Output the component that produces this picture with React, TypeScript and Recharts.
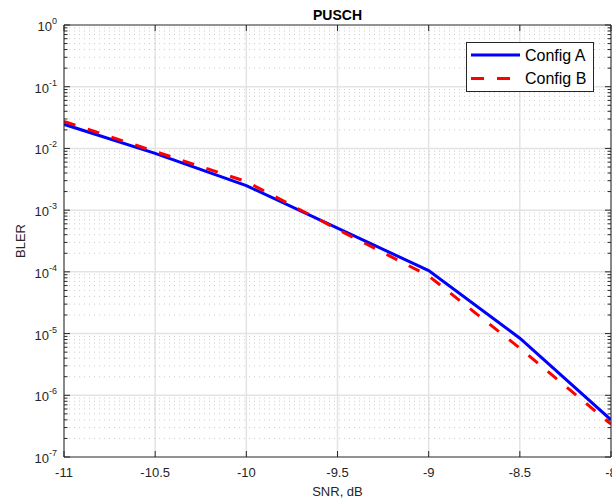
import React from 'react';
import {
  LineChart,
  Line,
  XAxis,
  YAxis,
  CartesianGrid,
  ReferenceLine,
  Legend,
  Label,
} from 'recharts';

// SNR points (dB) and BLER
const snr = [-11, -10.5, -10, -9.5, -9, -8.5, -8];
const configA = [0.0246, 0.0083, 0.0025, 5.1e-4, 1.05e-4, 8.4e-6, 4.0e-7];
const configB = [0.0275, 0.0089, 0.0029, 4.9e-4, 8.6e-5, 5.8e-6, 3.4e-7];

const xTicks = [-11, -10.5, -10, -9.5, -9, -8.5, -8];
const decades = [1e-7, 1e-6, 1e-5, 1e-4, 1e-3, 1e-2, 1e-1, 1];
const minorSteps = [2, 3, 4, 5, 6, 7, 8, 9];

const minorTicks = decades.slice(0, -1).flatMap((d) => minorSteps.map((m) => m * d));
const yTicks = [...decades, ...minorTicks].sort((a, b) => a - b);

const data = snr.map((s, i) => ({ snr: s, a: configA[i], b: configB[i] }));

const AXIS = '#262626';
const GRID = '#e3e3e3';
const MINOR = '#cdcdcd';
const BLUE = '#0000ff';
const RED = '#ff0000';
const FONT = '"Liberation Sans", Arial, Helvetica, sans-serif';

const isDecade = (v: number) => Math.abs(Math.log10(v) - Math.round(Math.log10(v))) < 1e-6;

function LeftTick(props: any) {
  const { x, y, payload } = props;
  const v = payload.value;
  const major = isDecade(v);
  const exp = Math.round(Math.log10(v));
  return (
    <g>
      <line x1={x} x2={x + (major ? 6 : 3.5)} y1={y} y2={y} stroke={AXIS} strokeWidth={1} />
      {major && (
        <text x={x - 7} y={y + 6} textAnchor="end" fill={AXIS} fontSize={13} fontFamily={FONT}>
          <tspan>10</tspan>
          <tspan dy={-7} fontSize={9}>{exp}</tspan>
        </text>
      )}
    </g>
  );
}

function RightTick(props: any) {
  const { x, y, payload } = props;
  const major = isDecade(payload.value);
  return <line x1={x} x2={x - (major ? 6 : 3.5)} y1={y} y2={y} stroke={AXIS} strokeWidth={1} />;
}

function BottomTick(props: any) {
  const { x, y, payload } = props;
  return (
    <g>
      <line x1={x} x2={x} y1={y} y2={y - 6} stroke={AXIS} strokeWidth={1} />
      <text x={x} y={y + 20} textAnchor="middle" fill={AXIS} fontSize={13} fontFamily={FONT}>
        {payload.value}
      </text>
    </g>
  );
}

function TopTick(props: any) {
  const { x, y } = props;
  return <line x1={x} x2={x} y1={y} y2={y + 6} stroke={AXIS} strokeWidth={1} />;
}

function CustomLegend() {
  return (
    <svg width={129} height={51} style={{ display: 'block' }}>
      <rect x={0.5} y={0.5} width={127} height={49} fill="#fff" stroke={AXIS} strokeWidth={1} />
      <line x1={5} x2={54} y1={13} y2={13} stroke={BLUE} strokeWidth={3} />
      <text x={59} y={19} fontSize={16} fill="#000" fontFamily={FONT}>Config A</text>
      <line x1={5} x2={54} y1={36.5} y2={36.5} stroke={RED} strokeWidth={3} strokeDasharray="13 13" />
      <text x={59} y={42} fontSize={16} fill="#000" fontFamily={FONT}>Config B</text>
    </svg>
  );
}

export default function App() {
  return (
    <div style={{ width: 612, height: 502, background: '#fff' }}>
      <style>{'body{margin:0}'}</style>
      <LineChart width={612} height={502} data={data} margin={{ top: 0, right: 0, bottom: 0, left: 0 }}>
        <CartesianGrid horizontal={false} stroke={GRID} strokeWidth={1.5} />
        {minorTicks.map((v) => (
          <ReferenceLine key={`m${v}`} y={v} stroke={MINOR} strokeDasharray="1 4" strokeWidth={1} />
        ))}
        {decades.slice(1, -1).map((v) => (
          <ReferenceLine key={`d${v}`} y={v} stroke={GRID} strokeWidth={1.5} />
        ))}
        <XAxis
          dataKey="snr"
          type="number"
          domain={[-11, -8]}
          ticks={xTicks}
          interval={0}
          height={45}
          tickSize={0}
          tickMargin={0}
          tickLine={false}
          axisLine={{ stroke: AXIS }}
          tick={<BottomTick />}
          allowDataOverflow
        >
          <Label value="SNR, dB" position="center" dy={12} fill={AXIS} fontSize={13} fontFamily={FONT} />
        </XAxis>
        <XAxis
          xAxisId="top"
          orientation="top"
          dataKey="snr"
          type="number"
          domain={[-11, -8]}
          ticks={xTicks}
          interval={0}
          height={25}
          tickSize={0}
          tickMargin={0}
          tickLine={false}
          axisLine={{ stroke: AXIS }}
          tick={<TopTick />}
          allowDataOverflow
        >
          <Label value="PUSCH" position="center" dy={2.5} fill="#000" fontSize={14} fontWeight="bold" fontFamily={FONT} />
        </XAxis>
        <YAxis
          scale="log"
          type="number"
          domain={[1e-7, 1]}
          ticks={yTicks}
          interval={0}
          width={64}
          tickSize={0}
          tickMargin={0}
          tickLine={false}
          axisLine={{ stroke: AXIS }}
          tick={<LeftTick />}
          allowDataOverflow
        >
          <Label value="BLER" position="center" angle={-90} dx={-12} fill={AXIS} fontSize={13} fontFamily={FONT} />
        </YAxis>
        <YAxis
          yAxisId="right"
          orientation="right"
          scale="log"
          type="number"
          domain={[1e-7, 1]}
          ticks={yTicks}
          interval={0}
          width={1}
          tickSize={0}
          tickMargin={0}
          tickLine={false}
          axisLine={{ stroke: AXIS }}
          tick={<RightTick />}
          allowDataOverflow
        />
        <Line
          dataKey="a"
          name="Config A"
          type="linear"
          stroke={BLUE}
          strokeWidth={3}
          dot={false}
          isAnimationActive={false}
        />
        <Line
          dataKey="b"
          name="Config B"
          type="linear"
          stroke={RED}
          strokeWidth={3}
          strokeDasharray="12 13"
          dot={false}
          isAnimationActive={false}
        />
        <Legend
          layout="horizontal"
          verticalAlign="middle"
          align="center"
          content={<CustomLegend />}
          wrapperStyle={{ left: 466, top: 42, width: 129, height: 51 }}
        />
      </LineChart>
    </div>
  );
}
